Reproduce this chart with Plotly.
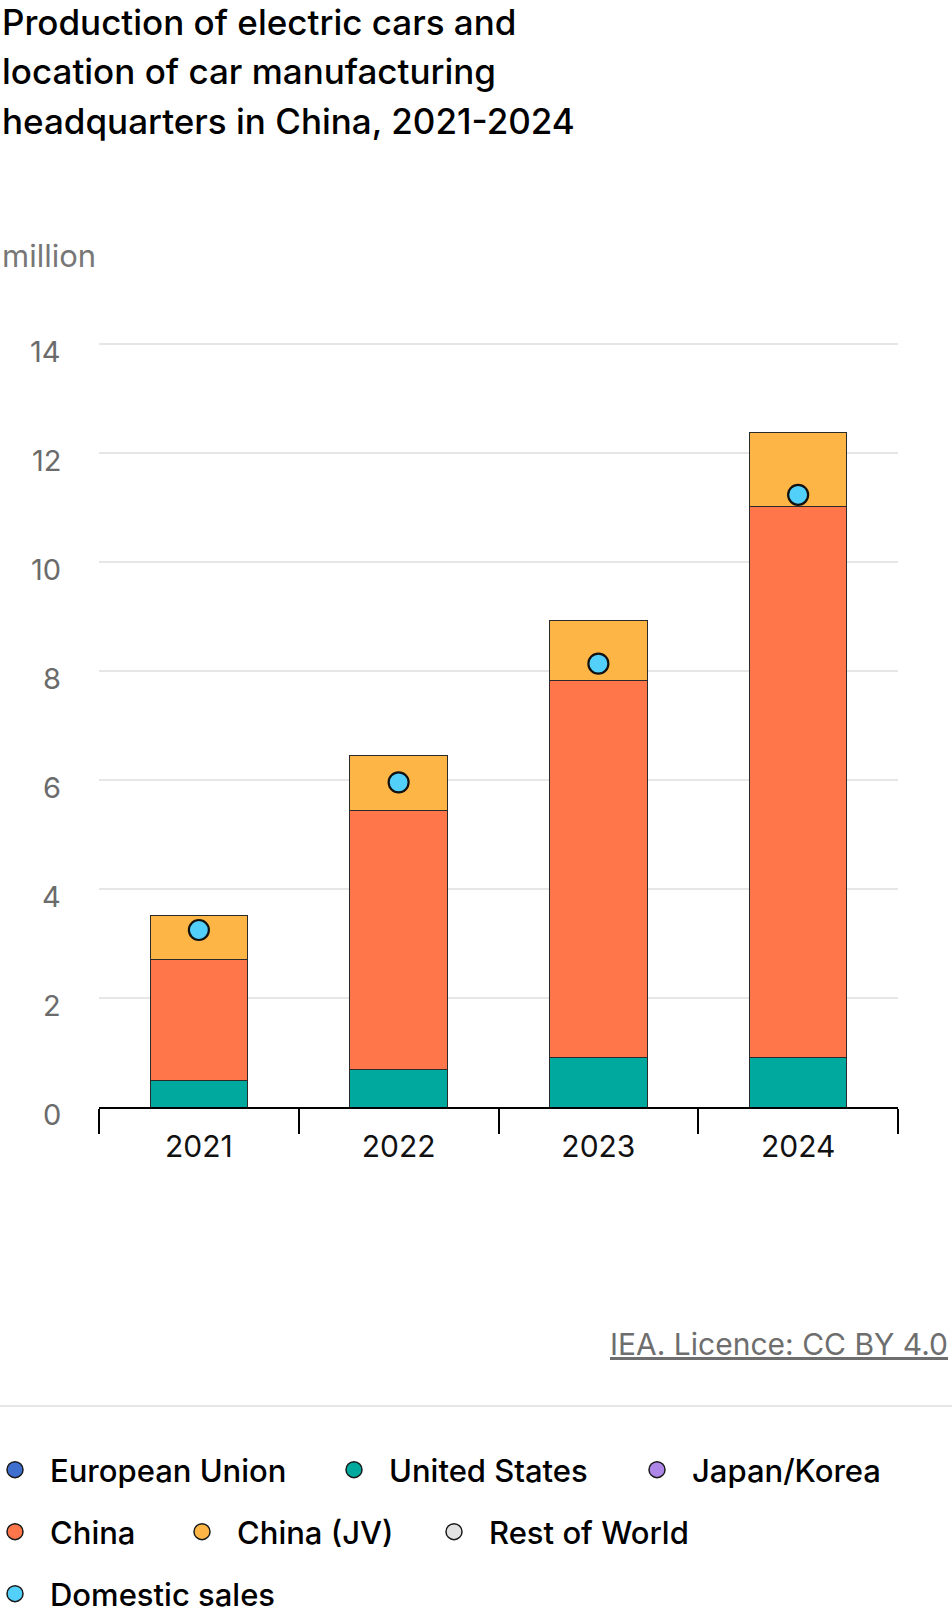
import plotly.graph_objects as go

# ---------------- data ----------------
years = ["2021", "2022", "2023", "2024"]
european_union = [0, 0, 0, 0]
united_states = [0.48, 0.68, 0.91, 0.91]
japan_korea = [0, 0, 0, 0]
china = [2.22, 4.76, 6.92, 10.12]
china_jv = [0.81, 1.02, 1.11, 1.35]
rest_of_world = [0, 0, 0, 0]
domestic_sales = [3.25, 5.96, 8.14, 11.24]
y_tick_values = [0, 2, 4, 6, 8, 10, 12, 14]

title_lines = ["Production of electric cars and",
               "location of car manufacturing",
               "headquarters in China, 2021-2024"]
unit_label = "million"
source_label = "IEA. Licence: CC BY 4.0"

# ---------------- layout geometry ----------------
FIG_W, FIG_H = 952, 1613
Y_MAX = 14.1
ML, MR, MB = 99, 54, 506
UNIT_PX = 54.47
MT = round(FIG_H - MB - Y_MAX * UNIT_PX)
PW = FIG_W - ML - MR
PH = FIG_H - MT - MB
FONT = "Inter"


def px_x(x):
    return (x - ML) / PW


def px_y(y):
    return (FIG_H - MB - y) / PH


bar_series = [
    ("European Union", european_union, "#3F70D0"),
    ("United States", united_states, "#00A99D"),
    ("Japan/Korea", japan_korea, "#AE86E8"),
    ("China", china, "#FF764A"),
    ("China (JV)", china_jv, "#FDB645"),
    ("Rest of World", rest_of_world, "#E2E2E2"),
]
dot_color = "#52D0FA"

fig = go.Figure()

for name, vals, col in bar_series:
    has_data = any(v != 0 for v in vals)
    fig.add_trace(go.Bar(
        x=years, y=vals, name=name, showlegend=False,
        marker=dict(color=col,
                    line=dict(color="#2a2a2a", width=1 if has_data else 0)),
    ))

fig.add_trace(go.Scatter(
    x=years, y=domestic_sales, mode="markers", name="Domestic sales",
    showlegend=False,
    marker=dict(size=20, color=dot_color, line=dict(color="#111111", width=2.2)),
))

# legend entries (one legend per entry so the layout matches the reference)
legend_items = [(n, c) for n, _, c in bar_series] + [("Domestic sales", dot_color)]
legend_pos = [(50, 1470), (389, 1470), (692, 1470),
              (50, 1532), (237, 1532), (489, 1532),
              (50, 1594)]
ITEM_W = 60

legends = {}
for i, ((name, col), (tx, ty)) in enumerate(zip(legend_items, legend_pos)):
    key = "legend" if i == 0 else f"legend{i + 1}"
    fig.add_trace(go.Scatter(
        x=[None], y=[None], mode="markers", name=name, legend=key,
        showlegend=True,
        marker=dict(size=16, color=col, line=dict(color="#1a1a1a", width=1.5)),
    ))
    legends[key] = dict(
        x=px_x(tx - (ITEM_W + 10)), y=px_y(ty), xanchor="left", yanchor="middle",
        orientation="h", bgcolor="rgba(0,0,0,0)", borderwidth=0,
        font=dict(family=FONT, size=31, color="#000000", weight=500),
        itemsizing="trace", itemwidth=ITEM_W,
    )

annotations = []
for text, yc in zip(title_lines, [22, 71, 121]):
    annotations.append(dict(
        text=text, xref="paper", yref="paper", x=px_x(0), y=px_y(yc),
        xanchor="left", yanchor="middle", showarrow=False,
        font=dict(family=FONT, size=35, color="#000000", weight=500),
    ))
annotations.append(dict(
    text=unit_label, xref="paper", yref="paper", x=px_x(0), y=px_y(255),
    xanchor="left", yanchor="middle", showarrow=False,
    font=dict(family=FONT, size=31, color="#777777", weight=400),
))
annotations.append(dict(
    text=f"<u>{source_label}</u>", xref="paper", yref="paper", x=px_x(950), y=px_y(1344),
    xanchor="right", yanchor="middle", showarrow=False,
    font=dict(family=FONT, size=30, color="#6e6e6e", weight=400),
))
# y tick labels (sit slightly below their gridlines, as in the reference)
for v in y_tick_values:
    annotations.append(dict(
        text=str(v), xref="paper", yref="y", x=px_x(63), y=v, yshift=-7,
        xanchor="right", yanchor="middle", showarrow=False,
        font=dict(family=FONT, size=29, color="#6b6b6b", weight=400),
    ))

shapes = [dict(type="line", xref="paper", yref="paper",
               x0=px_x(0), x1=px_x(FIG_W), y0=px_y(1406), y1=px_y(1406),
               line=dict(color="#e6e6e6", width=2))]

fig.update_layout(
    width=FIG_W, height=FIG_H,
    margin=dict(l=ML, r=MR, t=MT, b=MB, autoexpand=False),
    paper_bgcolor="white", plot_bgcolor="white",
    barmode="stack", bargap=0.512,
    font=dict(family=FONT),
    annotations=annotations, shapes=shapes,
    **legends,
)

fig.update_xaxes(
    type="category", range=[-0.5, 3.5],
    tickson="boundaries", ticks="outside", ticklen=25, tickwidth=2, tickcolor="#000000",
    showline=True, linecolor="#000000", linewidth=2, showgrid=False, zeroline=False,
    ticklabelstandoff=12,
    tickfont=dict(family=FONT, size=30, color="#111111"),
)
fig.update_yaxes(
    range=[0, Y_MAX], tickmode="array", tickvals=y_tick_values,
    showgrid=True, gridcolor="#e6e6e6", gridwidth=2,
    zeroline=False, showline=False, ticks="", showticklabels=False,
)

fig.write_html(
    "out.html",
    config={"displayModeBar": False},
    post_script="document.body.style.margin='0';document.body.style.overflow='hidden';",
)
